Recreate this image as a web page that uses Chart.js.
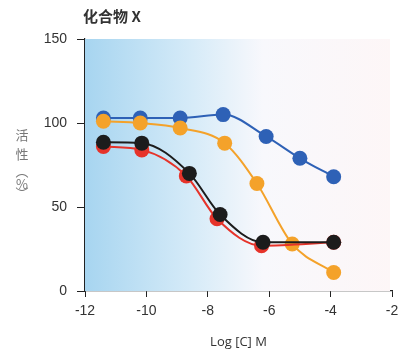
<!DOCTYPE html>
<html>
<head>
<meta charset="utf-8">
<script src="https://cdn.jsdelivr.net/npm/chart.js@4"></script>
<style>
  html, body { margin: 0; padding: 0; background: #fff; }
  #wrap { width: 408px; height: 358px; }
</style>
</head>
<body>
<div id="wrap"><canvas id="chart" width="408" height="358"></canvas></div>
<script>
const title = "化合物 X";
const yLabel = ["活", "性", "︵", "%", "︶"];
const xLabel = "Log [C] M";

// log concentration / activity (%)
const blueX = [-11.4, -10.2, -8.9, -7.5, -6.1, -5.0, -3.9];
const blueY = [103, 103, 103, 105, 92, 79, 68];
const orangeX = [-11.4, -10.2, -8.9, -7.45, -6.4, -5.25, -3.9];
const orangeY = [101, 100, 97, 88, 64, 28, 11];
const blackX = [-11.4, -10.15, -8.6, -7.6, -6.2, -3.9];
const blackY = [88.5, 88, 70, 45.5, 29, 29];
const redX = [-11.4, -10.15, -8.7, -7.7, -6.25, -3.9];
const redY = [86, 84, 68.5, 43, 27, 29];

const pts = (xs, ys) => xs.map((x, i) => ({ x, y: ys[i] }));

function series(label, xs, ys, color) {
  return {
    label,
    data: pts(xs, ys),
    borderColor: color,
    backgroundColor: color,
    borderWidth: 2,
    pointRadius: 7.5,
    pointHoverRadius: 7.5,
    pointBorderWidth: 0,
    cubicInterpolationMode: "monotone",
    showLine: true,
  };
}

// plot background + title + stacked vertical y label
const decor = {
  id: "decor",
  beforeDatasetsDraw(chart) {
    const { ctx, chartArea: a } = chart;
    const g = ctx.createLinearGradient(a.left, 0, a.right, 0);
    g.addColorStop(0, "#a7d5f0");
    g.addColorStop(0.35, "#d6ebf8");
    g.addColorStop(0.58, "#f8f8fc");
    g.addColorStop(1, "#fdf6f7");
    ctx.save();
    ctx.fillStyle = g;
    ctx.fillRect(a.left, a.top, a.right - a.left - 2, a.bottom - a.top);
    ctx.restore();
  },
  afterDraw(chart) {
    const { ctx } = chart;
    ctx.save();
    ctx.fillStyle = "#333";
    ctx.font = "bold 15px 'Noto Sans CJK SC'";
    ctx.textBaseline = "middle";
    ctx.fillText(title, 83, 16);
    ctx.fillStyle = "#777";
    ctx.font = "13px 'Noto Sans CJK SC'";
    ctx.textAlign = "center";
    const ys = [135, 154, 171, 184.5, 193.5];
    yLabel.forEach((c, i) => ctx.fillText(c, 22, ys[i]));
    ctx.restore();
  },
};

const tickFont = { family: "'Liberation Sans', Arial", size: 14 };

new Chart(document.getElementById("chart"), {
  type: "scatter",
  data: {
    datasets: [
      series("黑", blackX, blackY, "#1c1c1c"),
      series("红", redX, redY, "#e6332a"),
      series("橙", orangeX, orangeY, "#f4a22a"),
      series("蓝", blueX, blueY, "#2e61b6"),
    ],
  },
  options: {
    responsive: false,
    animation: false,
    layout: { padding: { top: 39, right: 16, left: 0, bottom: 0 } },
    plugins: { legend: { display: false }, tooltip: { enabled: false } },
    scales: {
      x: {
        type: "linear",
        min: -12,
        max: -2,
        ticks: { stepSize: 2, color: "#333", font: tickFont, padding: 6 },
        grid: { drawOnChartArea: false, tickLength: 6, color: "#222" },
        border: { color: "#222", width: 1.2 },
        title: {
          display: true,
          text: xLabel,
          color: "#333",
          font: { family: "'Open Sans'", size: 13 },
          padding: { top: 4, bottom: 8 },
        },
        afterFit: (s) => { s.height = 67; },
      },
      y: {
        min: 0,
        max: 150,
        ticks: { stepSize: 50, color: "#333", font: tickFont, padding: 10 },
        grid: { drawOnChartArea: false, tickLength: 8, color: "#222" },
        border: { color: "#222", width: 1.2 },
        afterFit: (s) => { s.width = 85; },
      },
    },
  },
  plugins: [decor],
});
</script>
</body>
</html>
